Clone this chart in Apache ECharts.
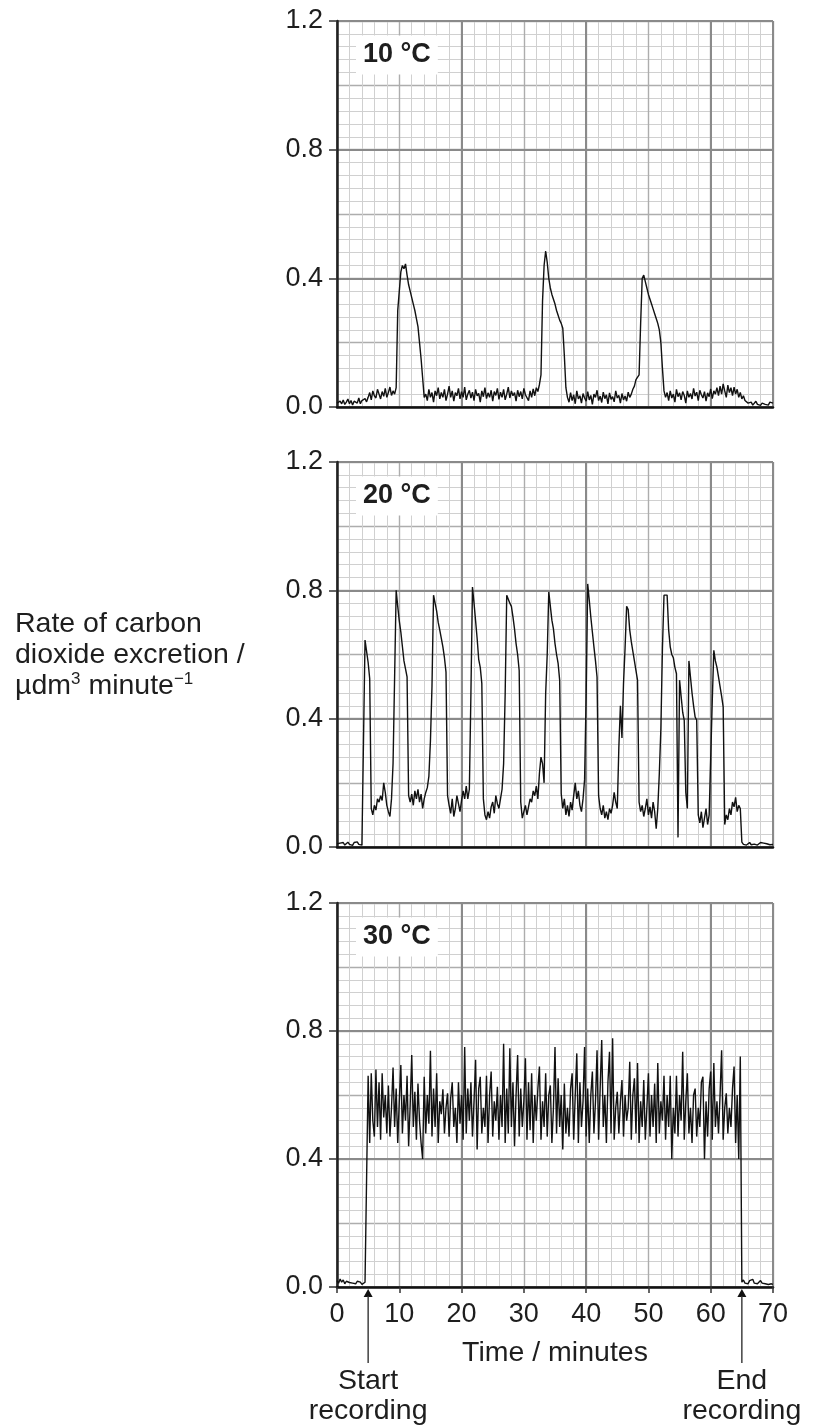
<!DOCTYPE html>
<html><head><meta charset="utf-8">
<script src="https://cdn.jsdelivr.net/npm/echarts@6/dist/echarts.min.js"></script>
<style>html,body{margin:0;padding:0;background:#fff}#c{width:820px;height:1425px}</style>
</head><body><div id="c"></div>
<script>
// Readings every STEP minutes, starting at t = 0 (one line = one minute)
const STEP = 0.25;

const rate10 = [
0.012,0.006,0.018,0.010, 0.022,0.008,0.015,0.025, 0.010,0.020,0.006,0.018, 0.024,0.012,0.028,0.010, 0.020,0.014,0.026,0.016,
0.030,0.045,0.022,0.050, 0.035,0.028,0.055,0.040, 0.025,0.048,0.033,0.058, 0.030,0.045,0.062,0.036, 0.050,0.040,0.060,0.300,
0.360,0.420,0.440,0.430, 0.445,0.410,0.380,0.360, 0.340,0.320,0.300,0.275, 0.250,0.200,0.150,0.090, 0.030,0.040,0.020,0.055,
0.030,0.045,0.015,0.050, 0.035,0.060,0.025,0.045, 0.030,0.055,0.020,0.040, 0.065,0.030,0.050,0.018, 0.045,0.035,0.058,0.025,
0.048,0.030,0.062,0.022, 0.040,0.052,0.028,0.046, 0.020,0.055,0.035,0.042, 0.015,0.050,0.032,0.060, 0.026,0.044,0.030,0.052,
0.018,0.048,0.036,0.058, 0.024,0.046,0.030,0.055, 0.022,0.040,0.062,0.028, 0.050,0.035,0.045,0.018, 0.052,0.032,0.048,0.025,
0.058,0.038,0.044,0.020, 0.050,0.030,0.056,0.035, 0.060,0.048,0.070,0.100, 0.330,0.440,0.485,0.450, 0.400,0.370,0.350,0.335,
0.320,0.300,0.285,0.270, 0.260,0.245,0.160,0.060, 0.030,0.015,0.045,0.020, 0.038,0.010,0.050,0.025, 0.035,0.012,0.042,0.028,
0.018,0.048,0.022,0.036, 0.008,0.040,0.030,0.052, 0.020,0.034,0.014,0.046, 0.026,0.038,0.010,0.044, 0.024,0.032,0.016,0.050,
0.028,0.036,0.012,0.042, 0.022,0.034,0.018,0.046, 0.030,0.040,0.055,0.065, 0.085,0.090,0.100,0.260, 0.400,0.410,0.390,0.370,
0.350,0.335,0.320,0.305, 0.290,0.275,0.260,0.240, 0.200,0.120,0.050,0.030, 0.045,0.020,0.050,0.028, 0.040,0.015,0.055,0.032,
0.044,0.022,0.048,0.036, 0.012,0.050,0.030,0.042, 0.025,0.058,0.034,0.046, 0.020,0.052,0.038,0.028, 0.048,0.018,0.044,0.032,
0.056,0.026,0.050,0.040, 0.060,0.035,0.065,0.040, 0.072,0.050,0.030,0.068, 0.045,0.060,0.035,0.062, 0.040,0.055,0.030,0.045,
0.025,0.035,0.020,0.025, 0.012,0.010,0.015,0.006, 0.012,0.018,0.008,0.014, 0.005,0.012,0.016,0.008, 0.013,0.006,0.015,0.010,
0.012
];

const rate20 = [
0.010,0.005,0.012,0.008, 0.014,0.006,0.010,0.015, 0.008,0.012,0.005,0.014, 0.010,0.016,0.008,0.012, 0.006,0.010,0.645,0.648,
0.575,0.525,0.120,0.100, 0.130,0.115,0.150,0.140, 0.160,0.145,0.200,0.170, 0.130,0.110,0.095,0.150, 0.260,0.530,0.800,0.750,
0.705,0.670,0.625,0.580, 0.555,0.530,0.160,0.140, 0.165,0.130,0.175,0.150, 0.180,0.140,0.165,0.120, 0.150,0.170,0.185,0.220,
0.330,0.500,0.785,0.760, 0.735,0.700,0.676,0.650, 0.624,0.590,0.545,0.160, 0.130,0.105,0.150,0.095, 0.120,0.160,0.135,0.110,
0.145,0.175,0.150,0.190, 0.150,0.180,0.478,0.810, 0.760,0.705,0.650,0.585, 0.560,0.510,0.150,0.100, 0.085,0.110,0.090,0.125,
0.140,0.105,0.160,0.135, 0.120,0.150,0.180,0.260, 0.478,0.785,0.790,0.760, 0.750,0.717,0.680,0.634, 0.600,0.550,0.140,0.090,
0.110,0.130,0.100,0.125, 0.150,0.140,0.175,0.160, 0.190,0.150,0.230,0.280, 0.260,0.200,0.478,0.600, 0.795,0.800,0.707,0.680,
0.634,0.600,0.572,0.520, 0.166,0.120,0.150,0.100, 0.130,0.095,0.140,0.115, 0.160,0.200,0.150,0.175, 0.130,0.110,0.150,0.210,
0.470,0.820,0.770,0.717, 0.670,0.624,0.580,0.530, 0.160,0.120,0.100,0.130, 0.090,0.110,0.085,0.120, 0.105,0.130,0.170,0.140,
0.120,0.310,0.440,0.340, 0.510,0.620,0.750,0.740, 0.676,0.640,0.610,0.580, 0.550,0.520,0.140,0.110, 0.130,0.095,0.120,0.150,
0.100,0.125,0.090,0.140, 0.110,0.057,0.120,0.230, 0.370,0.620,0.785,0.785, 0.785,0.676,0.624,0.600, 0.590,0.560,0.540,0.030,
0.520,0.470,0.420,0.395, 0.170,0.120,0.580,0.530, 0.480,0.440,0.405,0.395, 0.100,0.075,0.110,0.060, 0.090,0.120,0.070,0.100,
0.100,0.457,0.613,0.580, 0.560,0.530,0.500,0.470, 0.437,0.070,0.100,0.085, 0.120,0.100,0.140,0.125, 0.155,0.110,0.130,0.120,
0.015,0.008,0.012,0.006, 0.010,0.014,0.007,0.012, 0.009,0.013,0.006,0.011, 0.014,0.008,0.012,0.006, 0.010,0.013,0.007,0.012,
0.008
];

const rate30 = [
0.020,0.012,0.025,0.015, 0.022,0.010,0.018,0.024, 0.014,0.020,0.012,0.016, 0.010,0.018,0.012,0.015, 0.008,0.012,0.015,0.010,
0.660,0.450,0.668,0.520, 0.470,0.680,0.500,0.640, 0.460,0.668,0.530,0.600, 0.480,0.630,0.470,0.560, 0.686,0.500,0.620,0.450,
0.580,0.694,0.480,0.600, 0.520,0.660,0.440,0.570, 0.725,0.500,0.610,0.460, 0.636,0.520,0.450,0.400, 0.657,0.480,0.600,0.510,
0.738,0.470,0.620,0.500, 0.668,0.450,0.580,0.540, 0.618,0.480,0.560,0.605, 0.470,0.590,0.640,0.500, 0.560,0.450,0.640,0.510,
0.600,0.460,0.750,0.480, 0.620,0.520,0.640,0.470, 0.580,0.710,0.430,0.620, 0.657,0.480,0.560,0.500, 0.660,0.450,0.600,0.673,
0.470,0.580,0.520,0.626, 0.460,0.600,0.500,0.760, 0.450,0.620,0.480,0.746, 0.500,0.640,0.440,0.600, 0.725,0.470,0.620,0.500,
0.580,0.715,0.460,0.640, 0.490,0.668,0.450,0.600, 0.520,0.620,0.689,0.460, 0.580,0.500,0.668,0.470, 0.600,0.630,0.450,0.560,
0.750,0.480,0.652,0.500, 0.600,0.430,0.636,0.480, 0.560,0.470,0.620,0.668, 0.460,0.600,0.730,0.450, 0.640,0.500,0.580,0.750,
0.470,0.620,0.450,0.600, 0.673,0.480,0.580,0.740, 0.460,0.620,0.772,0.500, 0.600,0.450,0.640,0.735, 0.480,0.777,0.460,0.560,
0.610,0.480,0.580,0.647, 0.470,0.600,0.520,0.560, 0.704,0.460,0.600,0.652, 0.480,0.700,0.450,0.580, 0.500,0.647,0.460,0.560,
0.668,0.470,0.600,0.500, 0.636,0.450,0.700,0.480, 0.580,0.520,0.660,0.460, 0.600,0.500,0.660,0.400, 0.560,0.480,0.660,0.470,
0.600,0.520,0.735,0.460, 0.580,0.668,0.480,0.560, 0.450,0.600,0.620,0.470, 0.560,0.500,0.640,0.657, 0.400,0.580,0.470,0.620,
0.673,0.460,0.700,0.500, 0.580,0.480,0.600,0.740, 0.460,0.560,0.605,0.480, 0.560,0.500,0.620,0.689, 0.450,0.600,0.400,0.720,
0.015,0.022,0.012,0.018, 0.010,0.020,0.014,0.024, 0.012,0.018,0.010,0.016, 0.020,0.012,0.015,0.010, 0.014,0.008,0.012,0.010,
0.008
];

const panelLabels = ['10 °C', '20 °C', '30 °C'];
const xAxisName = 'Time / minutes';
const yAxisTitle = ['Rate of carbon', 'dioxide excretion /'];
const markers = [{t: 5, text: 'Start\nrecording'}, {t: 65, text: 'End\nrecording'}];

const FONT = '"Liberation Sans", Arial, Helvetica, sans-serif';
const TXT = '#1e1e1e';
const gridBoxes = [{top: 21, height: 386}, {top: 462, height: 385}, {top: 903, height: 384}];
const sets = [rate10, rate20, rate30];

const option = {animation: false, backgroundColor: '#fff', grid: [], xAxis: [], yAxis: [], series: []};
gridBoxes.forEach((g, i) => {
  const last = i === 2;
  option.grid.push({left: 337, width: 436, top: g.top, height: g.height});
  option.xAxis.push({gridIndex: i, type: 'value', position: 'bottom', offset: 0, min: 0, max: 70, interval: 10, z: 0,
    axisLine: {show: false}, axisTick: {show: false}, axisLabel: {show: false},
    splitLine: {show: true, lineStyle: {color: '#adadad', width: 1.4}},
    minorTick: {show: false, splitNumber: 5},
    minorSplitLine: {show: true, lineStyle: {color: '#d0d0d0', width: 1}}});
  option.xAxis.push({gridIndex: i, type: 'value', position: 'bottom', offset: 0, min: 0, max: 70, interval: 20, z: 1,
    axisLine: {show: false}, axisTick: {show: false}, axisLabel: {show: false},
    splitLine: {show: true, lineStyle: {color: '#8a8a8a', width: 2}}});
  option.xAxis.push({gridIndex: i, type: 'value', position: 'bottom', offset: 0, min: 0, max: 70, interval: 10, z: 3,
    axisLine: {show: true, onZero: false, lineStyle: {color: '#111', width: 2.5}},
    axisTick: {show: last, length: 6, lineStyle: {color: '#333', width: 1.5}},
    axisLabel: {show: last, fontSize: 27, color: TXT, margin: 14, fontFamily: FONT},
    splitLine: {show: false},
    name: last ? xAxisName : '', nameLocation: 'middle', nameGap: 52,
    nameTextStyle: {fontSize: 28.5, color: TXT, fontFamily: FONT}});
  option.yAxis.push({gridIndex: i, type: 'value', position: 'left', offset: 0, min: 0, max: 1.2, interval: 0.2, z: 0,
    axisLine: {show: false}, axisTick: {show: false}, axisLabel: {show: false},
    splitLine: {show: true, lineStyle: {color: '#adadad', width: 1.4}},
    minorTick: {show: false, splitNumber: 5},
    minorSplitLine: {show: true, lineStyle: {color: '#d0d0d0', width: 1}}});
  option.yAxis.push({gridIndex: i, type: 'value', position: 'left', offset: 0, min: 0, max: 1.2, interval: 0.4, z: 2,
    axisLine: {show: true, onZero: false, lineStyle: {color: '#222', width: 2.5}},
    axisTick: {show: true, length: 8, lineStyle: {color: '#333', width: 1.5}},
    axisLabel: {fontSize: 27, color: TXT, margin: 14, fontFamily: FONT, formatter: v => v.toFixed(1)},
    splitLine: {show: true, lineStyle: {color: '#8a8a8a', width: 2}}});
  option.series.push({type: 'line', xAxisIndex: 3 * i + 2, yAxisIndex: 2 * i + 1,
    data: sets[i].map((v, k) => [k * STEP, v]),
    symbol: 'none', showSymbol: false, z: 4,
    lineStyle: {color: '#111', width: 1.4}});
});

const chart = echarts.init(document.getElementById('c'), null, {renderer: 'canvas'});
chart.setOption(option);

const graphics = [];
// panel labels
gridBoxes.forEach((g, i) => {
  const [px, py] = chart.convertToPixel({gridIndex: i}, [0, 1.2]);
  graphics.push({type: 'text', x: px + 19, y: py + 34, z: 20,
    style: {text: panelLabels[i], font: 'bold 27px ' + FONT, fill: TXT,
      verticalAlign: 'middle', backgroundColor: '#fff', padding: [6, 7]}});
});
// y axis title
graphics.push({type: 'text', x: 15, y: 609, z: 20,
  style: {
    text: '{a|' + yAxisTitle[0] + '}\n{a|' + yAxisTitle[1] + '}\n{a|µdm}{s|3}{a| minute}{s|−1}',
    rich: {
      a: {font: '28.5px ' + FONT, fill: TXT, lineHeight: 31},
      s: {font: '17px ' + FONT, fill: TXT, lineHeight: 20, verticalAlign: 'top'}
    }
  }});
// start / end recording arrows
markers.forEach(m => {
  const [px, py] = chart.convertToPixel({gridIndex: 2}, [m.t, 0]);
  graphics.push({type: 'polygon', z: 20, shape: {points: [[px, py + 2], [px - 4.5, py + 10], [px + 4.5, py + 10]]}, style: {fill: '#111'}});
  graphics.push({type: 'line', z: 20, shape: {x1: px, y1: py + 9, x2: px, y2: py + 76}, style: {stroke: '#333', lineWidth: 1.4}});
  graphics.push({type: 'text', x: px, y: py + 79, z: 20,
    style: {text: m.text, font: '28.5px ' + FONT, fill: TXT, align: 'center', verticalAlign: 'top', lineHeight: 30}});
});
chart.setOption({graphic: graphics});
</script>
</body></html>
